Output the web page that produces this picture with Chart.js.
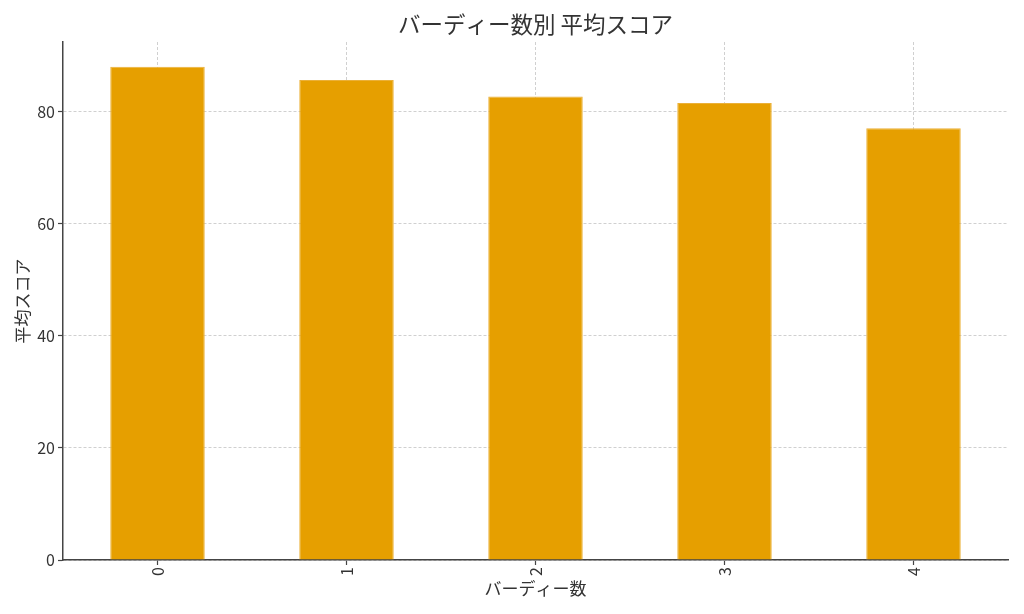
<!DOCTYPE html>
<html>
<head>
<meta charset="utf-8">
<script src="https://cdn.jsdelivr.net/npm/chart.js@4"></script>
<style>
html,body{margin:0;padding:0;background:#fff;}
#wrap{width:1024px;height:614px;}
</style>
</head>
<body>
<div id="wrap"><canvas id="c" width="1024" height="614"></canvas></div>
<script>
const categories = ['0', '1', '2', '3', '4'];
const avgScores = [88.0, 85.6, 82.7, 81.5, 77.0];
const chartTitle = 'バーディー数別 平均スコア';
const xTitle = 'バーディー数';
const yTitle = '平均スコア';

const FONT = "'Noto Sans CJK JP', 'Noto Sans', sans-serif";
const AX = '#444';

new Chart(document.getElementById('c'), {
  type: 'bar',
  data: {
    labels: categories,
    datasets: [{
      data: avgScores,
      backgroundColor: '#E69F00',
      borderColor: '#EBB038',
      borderWidth: 1,
      categoryPercentage: 1.0,
      barPercentage: 0.5
    }]
  },
  options: {
    responsive: false,
    animation: false,
    devicePixelRatio: 1,
    layout: { padding: { left: 0, right: 16, top: 0, bottom: 0 } },
    plugins: {
      legend: { display: false },
      tooltip: { enabled: false },
      title: {
        display: true,
        fullSize: false,
        text: chartTitle,
        color: '#333',
        font: { family: FONT, size: 22.5, weight: 'normal', lineHeight: 1.2 },
        padding: { top: 11, bottom: 4 }
      }
    },
    scales: {
      x: {
        offset: true,
        grid: {
          offset: false,
          color: '#d0d0d0',
          lineWidth: 1,
          drawTicks: true,
          tickLength: 5,
          tickColor: AX,
          tickBorderDash: [],
          tickWidth: 1.2
        },
        border: { display: true, color: AX, width: 1.5, dash: [3, 2] },
        ticks: {
          color: '#333',
          font: { family: FONT, size: 16 },
          minRotation: 90,
          maxRotation: 90,
          padding: 2
        },
        title: {
          display: true,
          text: xTitle,
          color: '#333',
          font: { family: FONT, size: 17, lineHeight: 1.2 },
          padding: { top: 0, bottom: 15 }
        },
        afterFit: (s) => { s.height = 54; }
      },
      y: {
        min: 0,
        max: 92.4,
        grid: {
          color: '#d0d0d0',
          lineWidth: 1,
          drawTicks: true,
          tickLength: 5,
          tickColor: AX,
          tickBorderDash: [],
          tickWidth: 1.2
        },
        border: { display: true, color: AX, width: 1.5, dash: [3, 2] },
        ticks: {
          stepSize: 20,
          includeBounds: false,
          color: '#333',
          font: { family: FONT, size: 16 },
          padding: 3
        },
        title: {
          display: true,
          text: yTitle,
          color: '#333',
          font: { family: FONT, size: 17, lineHeight: 1.2 },
          padding: { top: 12, bottom: 0 }
        },
        afterFit: (s) => { s.width = 63; }
      }
    }
  }
});
</script>
</body>
</html>
